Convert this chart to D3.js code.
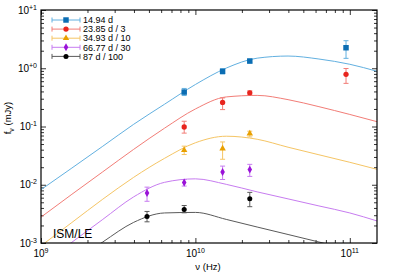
<!DOCTYPE html>
<html>
<head>
<meta charset="utf-8">
<script src="https://cdn.jsdelivr.net/npm/d3@7"></script>
<style>
  body { margin: 0; background: #fff; }
  svg { display: block; font-family: "Liberation Sans", Arial, sans-serif; }
</style>
</head>
<body>
<div id="app"></div>
<script>
// model curves, sampled at these frequencies (Hz)
const modelNu = [1e9, 1.585e9, 2.512e9, 3.981e9, 6.31e9, 1e10, 1.585e10, 2.512e10, 3.981e10, 6.31e10, 1e11, 1.5e11];
const modelBlue   = [0.00824, 0.01936, 0.0458, 0.109, 0.241, 0.526, 1.007, 1.49, 1.62, 1.44, 1.17, 0.887];
const modelRed    = [0.00278, 0.00686, 0.01667, 0.0405, 0.0935, 0.200, 0.322, 0.342, 0.289, 0.219, 0.161, 0.121];
const modelOrange = [0.000895, 0.00225, 0.00565, 0.0134, 0.0284, 0.0526, 0.0681, 0.0604, 0.0441, 0.0327, 0.0243, 0.0184];
const modelPurple = [0.00041, 0.00103, 0.00254, 0.00619, 0.0110, 0.01263, 0.01016, 0.00755, 0.00572, 0.00433, 0.00328, 0.00239];
const modelBlack  = [0.0002, 0.000444, 0.00104, 0.00226, 0.00328, 0.00335, 0.00254, 0.00188, 0.0014, 0.00104, 0.00077, 0.00058];

// observations (Hz, mJy, lower, upper)
const obsBlueNu = [8.46e9, 1.5e10, 2.25e10, 9.45e10];
const obsBlue   = [0.39, 0.885, 1.33, 2.25];
const obsBlueLo = [0.34, 0.80, 1.23, 1.48];
const obsBlueHi = [0.45, 0.98, 1.43, 2.97];

const obsRedNu = [8.46e9, 1.5e10, 2.25e10, 9.45e10];
const obsRed   = [0.098, 0.259, 0.378, 0.785];
const obsRedLo = [0.077, 0.195, 0.35, 0.55];
const obsRedHi = [0.123, 0.31, 0.41, 0.99];

const obsOrangeNu = [8.46e9, 1.5e10, 2.25e10];
const obsOrange   = [0.0391, 0.0418, 0.0757];
const obsOrangeLo = [0.033, 0.0274, 0.0662];
const obsOrangeHi = [0.046, 0.0543, 0.083];

const obsPurpleNu = [4.86e9, 8.46e9, 1.5e10, 2.25e10];
const obsPurple   = [0.0072, 0.0109, 0.01655, 0.0182];
const obsPurpleLo = [0.0052, 0.0095, 0.0123, 0.0139];
const obsPurpleHi = [0.0091, 0.0123, 0.0209, 0.0224];

const obsBlackNu = [4.86e9, 8.46e9, 2.25e10];
const obsBlack   = [0.00286, 0.00377, 0.00576];
const obsBlackLo = [0.00231, 0.0033, 0.0042];
const obsBlackHi = [0.00348, 0.0044, 0.0074];

const legendLabels = ["14.94 d", "23.85 d / 3", "34.93 d / 10", "66.77 d / 30", "87 d / 100"];
const xTickExp = ["9", "10", "11"];
const yTickExp = ["-3", "-2", "-1", "+0", "+1"];

const series = [
  { model: modelBlue,   nu: obsBlueNu,   f: obsBlue,   lo: obsBlueLo,   hi: obsBlueHi,   pt: "#0b6db3", ln: "#62b0e0", sym: d3.symbolSquare,   size: 30 },
  { model: modelRed,    nu: obsRedNu,    f: obsRed,    lo: obsRedLo,    hi: obsRedHi,    pt: "#e8251e", ln: "#f27d77", sym: d3.symbolCircle,   size: 22 },
  { model: modelOrange, nu: obsOrangeNu, f: obsOrange, lo: obsOrangeLo, hi: obsOrangeHi, pt: "#e9a000", ln: "#f5c565", sym: d3.symbolTriangle, size: 18 },
  { model: modelPurple, nu: obsPurpleNu, f: obsPurple, lo: obsPurpleLo, hi: obsPurpleHi, pt: "#9a12d8", ln: "#c77cf0", sym: d3.symbolDiamond,  size: 18 },
  { model: modelBlack,  nu: obsBlackNu,  f: obsBlack,  lo: obsBlackLo,  hi: obsBlackHi,  pt: "#000000", ln: "#5a5a5a", sym: d3.symbolCircle,   size: 20 }
];

let width = 395, height = 275;
let mLeft = 41, mRight = 377, mTop = 10, mBottom = 243;

let svg = d3.select("#app").append("svg")
  .attr("width", width).attr("height", height);

let x = d3.scaleLog().domain([1e9, 1.5e11]).range([mLeft, mRight]);
let y = d3.scaleLog().domain([1e-3, 1e1]).range([mBottom, mTop]);

const xMajor = [1e9, 1e10, 1e11];
const xMinor = [];
[1e9, 1e10, 1e11].forEach(d => d3.range(2, 10).forEach(k => { if (d * k <= 1.5e11) xMinor.push(d * k) }));
const yMajor = [1e-3, 1e-2, 1e-1, 1, 10];
const yMinor = [];
[1e-3, 1e-2, 1e-1, 1].forEach(d => d3.range(2, 10).forEach(k => yMinor.push(d * k)));

const tickAxis = (axis, scale, vals, size) =>
  axis(scale).tickValues(vals).tickSize(-size).tickFormat("");

const addAxis = (axisFn, scale, transform) => {
  [[scale === x ? xMajor : yMajor, 5], [scale === x ? xMinor : yMinor, 3]].forEach(([vals, s]) => {
    svg.append("g")
      .attr("transform", transform)
      .call(tickAxis(axisFn, scale, vals, s))
      .call(g => g.select(".domain").remove())
      .call(g => g.selectAll("line").attr("stroke", "#000").attr("stroke-width", 0.8));
  });
};
addAxis(d3.axisBottom, x, `translate(0,${mBottom})`);
addAxis(d3.axisTop, x, `translate(0,${mTop})`);
addAxis(d3.axisLeft, y, `translate(${mLeft},0)`);
addAxis(d3.axisRight, y, `translate(${mRight},0)`);

// tick labels
xMajor.forEach((d, i) => {
  let t = svg.append("text")
    .attr("x", x(d)).attr("y", mBottom + 14)
    .attr("text-anchor", "middle")
    .attr("font-size", 10).attr("fill", "#000");
  t.append("tspan").text("10");
  t.append("tspan").attr("dy", -4).attr("font-size", 7).text(xTickExp[i]);
});
yMajor.forEach((d, i) => {
  let t = svg.append("text")
    .attr("x", mLeft - 4).attr("y", y(d) + 3.5)
    .attr("text-anchor", "end")
    .attr("font-size", 10).attr("fill", "#000");
  t.append("tspan").text("10");
  t.append("tspan").attr("dy", -4).attr("font-size", 7).text(yTickExp[i]);
});

// axis titles
svg.append("text")
  .attr("x", 208).attr("y", 270)
  .attr("text-anchor", "middle").attr("font-size", 9.5)
  .text("ν (Hz)");
let yl = svg.append("text")
  .attr("transform", "translate(11,118) rotate(-90)")
  .attr("text-anchor", "middle").attr("font-size", 9.5);
yl.append("tspan").text("f");
yl.append("tspan").attr("dy", 2.5).attr("font-size", 7).text("ν");
yl.append("tspan").attr("dy", -2.5).text(" (mJy)");

// model curves
svg.append("clipPath").attr("id", "plot")
  .append("rect").attr("x", mLeft).attr("y", mTop)
  .attr("width", mRight - mLeft).attr("height", mBottom - mTop);

let line = d3.line()
  .x(d => x(d[0])).y(d => y(d[1]))
  .curve(d3.curveMonotoneX);

let curves = svg.append("g").attr("clip-path", "url(#plot)");
series.forEach(s => {
  curves.append("path")
    .attr("d", line(modelNu.map((n, i) => [n, s.model[i]])))
    .attr("fill", "none")
    .attr("stroke", s.ln)
    .attr("stroke-width", 1);
});

// error bars and points
series.forEach(s => {
  let g = svg.append("g");
  s.nu.forEach((n, i) => {
    let cx = x(n);
    g.append("line").attr("x1", cx).attr("x2", cx)
      .attr("y1", y(s.lo[i])).attr("y2", y(s.hi[i]))
      .attr("stroke", s.ln).attr("stroke-width", 1);
    [s.lo[i], s.hi[i]].forEach(v => {
      g.append("line").attr("x1", cx - 2.5).attr("x2", cx + 2.5)
        .attr("y1", y(v)).attr("y2", y(v))
        .attr("stroke", s.ln).attr("stroke-width", 1);
    });
    g.append("path")
      .attr("d", d3.symbol().type(s.sym).size(s.size)())
      .attr("transform", `translate(${cx},${y(s.f[i])})`)
      .attr("fill", s.pt);
  });
});

// legend
let legend = svg.append("g");
series.forEach((s, i) => {
  let ly = 20 + i * 9.1;
  legend.append("line").attr("x1", 52).attr("x2", 80).attr("y1", ly).attr("y2", ly)
    .attr("stroke", s.ln).attr("stroke-width", 1);
  [52, 80].forEach(cx => {
    legend.append("line").attr("x1", cx).attr("x2", cx).attr("y1", ly - 2.5).attr("y2", ly + 2.5)
      .attr("stroke", s.ln).attr("stroke-width", 1);
  });
  legend.append("path")
    .attr("d", d3.symbol().type(s.sym).size(s.size)())
    .attr("transform", `translate(66,${ly})`)
    .attr("fill", s.pt);
  legend.append("text")
    .attr("x", 83).attr("y", ly + 3.2)
    .attr("font-size", 9)
    .text(legendLabels[i]);
});

svg.append("rect")
  .attr("x", mLeft).attr("y", mTop)
  .attr("width", mRight - mLeft).attr("height", mBottom - mTop)
  .attr("fill", "none").attr("stroke", "#000").attr("stroke-width", 1.2);

svg.append("text")
  .attr("x", 53).attr("y", 238)
  .attr("font-size", 12)
  .text("ISM/LE");
</script>
</body>
</html>
